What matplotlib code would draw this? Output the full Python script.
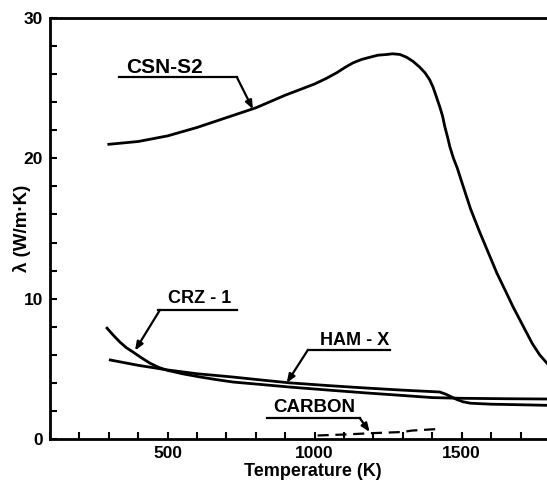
import matplotlib
matplotlib.use("Agg")
import matplotlib.pyplot as plt
from matplotlib.ticker import MultipleLocator, FixedLocator

plt.rcParams['font.family'] = ['Liberation Sans', 'DejaVu Sans']
plt.rcParams['font.weight'] = 'bold'

# ---- data ----
csn_T = [300, 400, 500, 600, 700, 800, 900, 1000, 1040, 1075, 1105, 1130, 1160, 1187,
         1215, 1245, 1265, 1290, 1313, 1335, 1357, 1375, 1391, 1402, 1412, 1420,
         1425, 1435, 1442, 1452, 1460, 1472, 1485, 1505, 1530, 1560, 1590, 1620,
         1650, 1675, 1710, 1740, 1765, 1790]
csn_k = [21.0, 21.2, 21.6, 22.2, 22.9, 23.6, 24.5, 25.3, 25.7, 26.1, 26.5, 26.8, 27.05, 27.2,
         27.35, 27.4, 27.45, 27.4, 27.2, 26.9, 26.5, 26.1, 25.6, 25.1, 24.5, 24.0,
         23.7, 23.0, 22.3, 21.5, 20.8, 20.0, 19.3, 18.0, 16.4, 14.8, 13.3, 11.8,
         10.5, 9.4, 8.0, 6.8, 6.0, 5.4]

crz_T = [294, 315, 338, 360, 382, 410, 440, 470, 498, 550, 610, 660, 722, 820, 916,
         1050, 1177, 1300, 1400, 1500, 1650, 1790]
crz_k = [7.9, 7.4, 6.9, 6.5, 6.2, 5.8, 5.4, 5.1, 4.9, 4.65, 4.42, 4.25, 4.06, 3.88, 3.7,
         3.48, 3.28, 3.1, 2.95, 2.9, 2.87, 2.85]

ham_T = [305, 400, 500, 600, 720, 820, 916, 1050, 1177, 1300, 1425, 1445, 1465, 1485,
         1505, 1530, 1600, 1700, 1790]
ham_k = [5.63, 5.25, 4.92, 4.65, 4.42, 4.2, 4.0, 3.8, 3.63, 3.48, 3.35, 3.2, 3.0, 2.8,
         2.65, 2.55, 2.48, 2.44, 2.4]

carbon_T = [1010, 1100, 1200, 1300, 1330, 1410]
carbon_k = [0.25, 0.32, 0.42, 0.5, 0.6, 0.7]

x_major = [500, 1000, 1500]
y_major = [0, 10, 20, 30]

# ---- figure ----
fig = plt.figure(figsize=(5.47, 4.80), dpi=100)
ax = fig.add_axes([50/547, 41/480, 497/547, 421/480])
ax.set_xlim(100, 1790)
ax.set_ylim(0, 30)

lw = 2.0
ax.plot(csn_T, csn_k, color='black', lw=lw, solid_joinstyle='round')
ax.plot(crz_T, crz_k, color='black', lw=lw, solid_joinstyle='round')
ax.plot(ham_T, ham_k, color='black', lw=lw, solid_joinstyle='round')
ax.plot(carbon_T, carbon_k, color='black', lw=1.6, ls=(0, (5, 3)))

for side in ['left', 'bottom', 'top']:
    ax.spines[side].set_linewidth(2.0)
ax.spines['right'].set_visible(False)

ax.xaxis.set_major_locator(FixedLocator(x_major))
ax.xaxis.set_minor_locator(MultipleLocator(100))
ax.yaxis.set_major_locator(FixedLocator(y_major))
ax.yaxis.set_minor_locator(MultipleLocator(2))
ax.tick_params(which='both', direction='in', length=5, width=1.5, top=False, right=False)
ax.tick_params(which='major', labelsize=12.5, pad=5)
for lab in ax.get_xticklabels() + ax.get_yticklabels():
    lab.set_fontweight('bold')

fig.text(313/547, 1 - 471/480, 'Temperature (K)', ha='center', va='center',
         fontsize=13, fontweight='bold')
fig.text(22/547, 1 - 228/480, 'λ (W/m·K)', ha='center', va='center',
         rotation=90, fontsize=13.5, fontweight='bold')

# ---- annotations: label, underline, leader with arrow ----
def label(text, tx, ty, ul_x0, ul_x1, ul_y, start_x, tip, size):
    ax.text(tx, ty, text, ha='center', va='center', fontsize=size, fontweight='bold')
    ax.plot([ul_x0, ul_x1], [ul_y, ul_y], color='black', lw=1.6)
    ax.annotate('', xy=tip, xytext=(start_x, ul_y),
                arrowprops=dict(arrowstyle='-|>,head_length=0.5,head_width=0.2',
                                color='black', lw=1.6, shrinkA=0, shrinkB=0))

label('CSN-S2', 491, 26.5, 334, 735, 25.8, 735, (790, 23.5), 15)
label('CRZ - 1', 610, 10.0, 467, 735, 9.2, 474, (389, 6.3), 13)
label('HAM - X', 1136, 7.0, 977, 1255, 6.35, 977, (905, 4.0), 13)
label('CARBON', 997, 2.25, 837, 1153, 1.5, 1153, (1187, 0.5), 13.5)

fig.savefig('out.png', dpi=100)
